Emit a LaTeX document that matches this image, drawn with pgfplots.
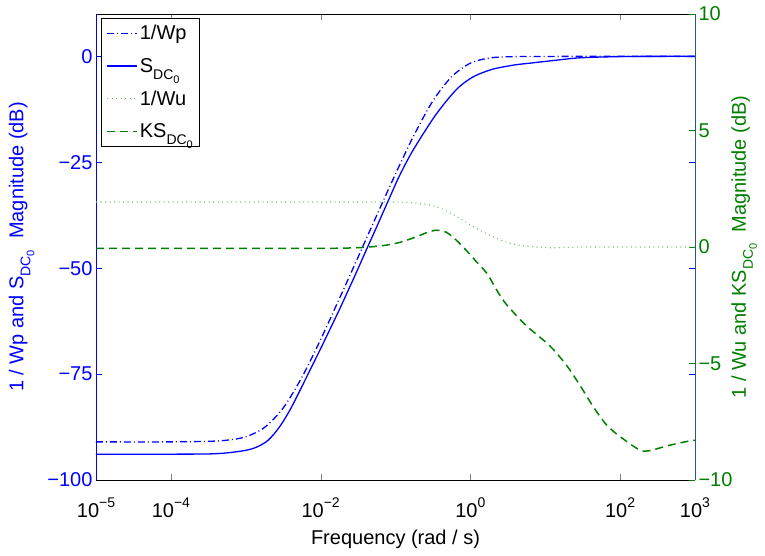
\documentclass[border=0pt]{standalone}
\usepackage{fontspec}
\setmainfont{Liberation Sans}
\usepackage{pgfplots}
\pgfplotsset{compat=1.18}
\definecolor{mblue}{rgb}{0,0,1}
\definecolor{mgreen}{rgb}{0,0.5,0}
\definecolor{wugreen}{rgb}{0.45,0.75,0.45}
\definecolor{raxis}{rgb}{0.12,0.37,0.5}
\newcommand{\fs}{\fontsize{20bp}{24bp}\selectfont}
\newcommand{\sups}[1]{\raise0.5em\hbox{\fontsize{14bp}{16bp}\selectfont #1}}
\newcommand{\DCz}{\lower0.35em\hbox{\fontsize{14bp}{16bp}\selectfont DC\lower0.3em\hbox{\fontsize{11bp}{12bp}\selectfont 0}}}
\tikzset{
  wpstyle/.style={draw=mblue, line width=1.3pt, dash pattern=on 7bp off 3bp on 1bp off 3bp},
  sstyle/.style={draw=mblue, line width=1.3pt, solid},
  wustyle/.style={draw=wugreen, line width=1.1pt, dash pattern=on 1bp off 3.5bp},
  ksstyle/.style={draw=mgreen, line width=1.5pt, dash pattern=on 8bp off 5bp},
}
\pgfplotsset{
  common/.style={
    scale only axis, width=599bp, height=466bp,
    xmin=-5, xmax=3,
    tick label style={font=\fs},
    label style={font=\fs},
    major tick length=6bp,
    tick align=inside,
  },
  legend image code/.code={\draw[#1] (0bp,0bp) -- (30bp,0bp);},
}
\begin{document}
\begin{tikzpicture}
\begin{axis}[common,
  separate axis lines,
  ymin=-100, ymax=10,
  xtick={-5,-4,-2,0,2,3},
  xticklabels={10\sups{−5},10\sups{−4},10\sups{−2},10\sups{0},10\sups{2},10\sups{3}},
  xticklabel style={yshift=-14bp},
  ytick={-100,-75,-50,-25,0},
  yticklabels={−100,−75,−50,−25,0},
  x axis line style={black},
  y axis line style={mblue},
  ytick style={mblue},
  yticklabel style={text=mblue},
  xlabel={Frequency (rad / s)},
  xlabel style={yshift=-6bp},
  ylabel={1 / Wp and S\DCz\ \ Magnitude (dB)},
  ylabel style={text=mblue},
  ylabel shift=6bp,
]
\coordinate (ll) at (rel axis cs:0,0);
\coordinate (ur) at (rel axis cs:1,1);
% 1/Wp
\addplot[wpstyle, smooth] coordinates {
(-5,-91.0) (-4,-91.0) (-3.5,-90.87) (-3.25,-90.6) (-3.0,-89.8) (-2.75,-87.6)
(-2.5,-83.0) (-2.25,-75.75) (-2.0,-66.85) (-1.75,-57.2) (-1.5,-47.4)
(-1.25,-37.5) (-1.0,-27.75) (-0.75,-18.5) (-0.5,-10.5) (-0.25,-4.8)
(0,-1.6) (0.25,-0.4) (0.5,-0.1) (1,-0.02) (1.5,0) (2,0) (3,0)
};
% S_DC0
\addplot[sstyle, smooth] coordinates {
(-5,-93.9) (-4,-93.9) (-3.5,-93.85) (-3.25,-93.6) (-3.0,-93.0) (-2.85,-92.2)
(-2.7,-90.6) (-2.55,-87.5) (-2.41,-83.5) (-2.28,-79.0) (-2.14,-74.0)
(-2.0,-69.0) (-1.88,-64.6) (-1.75,-59.8) (-1.61,-54.4) (-1.5,-50.1)
(-1.39,-45.7) (-1.25,-40.2) (-1.1,-34.2) (-0.95,-28.3) (-0.8,-23.2)
(-0.67,-19.4) (-0.55,-16.1) (-0.45,-13.5) (-0.3,-10.1) (-0.15,-7.2) (0.03,-4.9)
(0.2,-3.6) (0.35,-2.8) (0.6,-2.0) (0.8,-1.6) (1.1,-1.0) (1.46,-0.35)
(2,-0.05) (2.5,0) (3,0)
};
\end{axis}
\begin{axis}[common,
  axis y line*=right, axis x line=none,
  ymin=-10, ymax=10,
  ytick={-10,-5,0,5,10},
  yticklabels={−10,−5,0,5,10},
  y axis line style={raxis},
  ytick style={mgreen},
  yticklabel style={text=mgreen},
  ylabel={1 / Wu and KS\DCz\ \ Magnitude (dB)},
  ylabel style={text=mgreen},
  ylabel shift=-8bp,
  legend style={font=\fs, draw=black, text=black, line width=1.1pt, fill=white,
    at={(axis description cs:0.008,0.992)}, anchor=north west,
    row sep=13bp, inner sep=5bp},
  legend cell align=left,
]
\addlegendimage{draw=mblue, line width=1.3pt, dash pattern=on 7bp off 3bp on 1bp off 3bp}
\addlegendentry{1/Wp}
\addlegendimage{draw=mblue, line width=1.3pt, solid}
\addlegendentry{S\DCz}
% 1/Wu
\addplot[wustyle, smooth, forget plot] coordinates {
(-5,1.93) (-2,1.93) (-1,1.93) (-0.72,1.88) (-0.45,1.73) (-0.18,1.30)
(0.08,0.80) (0.35,0.37) (0.62,0.09) (1.06,-0.03) (1.5,0) (2,0) (3,0)
};
\addlegendimage{draw=wugreen, line width=1.1pt, dash pattern=on 1bp off 3.5bp}
\addlegendentry{1/Wu}
% KS_DC0
\addplot[ksstyle, smooth, forget plot] coordinates {
(-5,-0.06) (-3,-0.06) (-2,-0.06) (-1.5,-0.03) (-1.165,0.06) (-0.94,0.2)
(-0.72,0.44) (-0.58,0.62) (-0.45,0.72) (-0.32,0.63) (-0.19,0.30)
(-0.05,-0.16) (0.08,-0.63) (0.22,-1.13) (0.35,-1.84) (0.46,-2.38)
(0.66,-3.1) (0.79,-3.5) (1.06,-4.24) (1.28,-5.06) (1.46,-5.92)
(1.64,-6.85) (1.82,-7.64) (2.0,-8.14) (2.26,-8.71) (2.4,-8.74)
(2.62,-8.54) (2.93,-8.32) (3.0,-8.3)
};
\addlegendimage{draw=mgreen, line width=1.5pt, dash pattern=on 8bp off 5bp}
\addlegendentry{KS\DCz}
\end{axis}
\pgfresetboundingbox
\useasboundingbox ([xshift=-96bp,yshift=-76bp]ll) rectangle ([xshift=70bp,yshift=14bp]ur);
\end{tikzpicture}
\end{document}
